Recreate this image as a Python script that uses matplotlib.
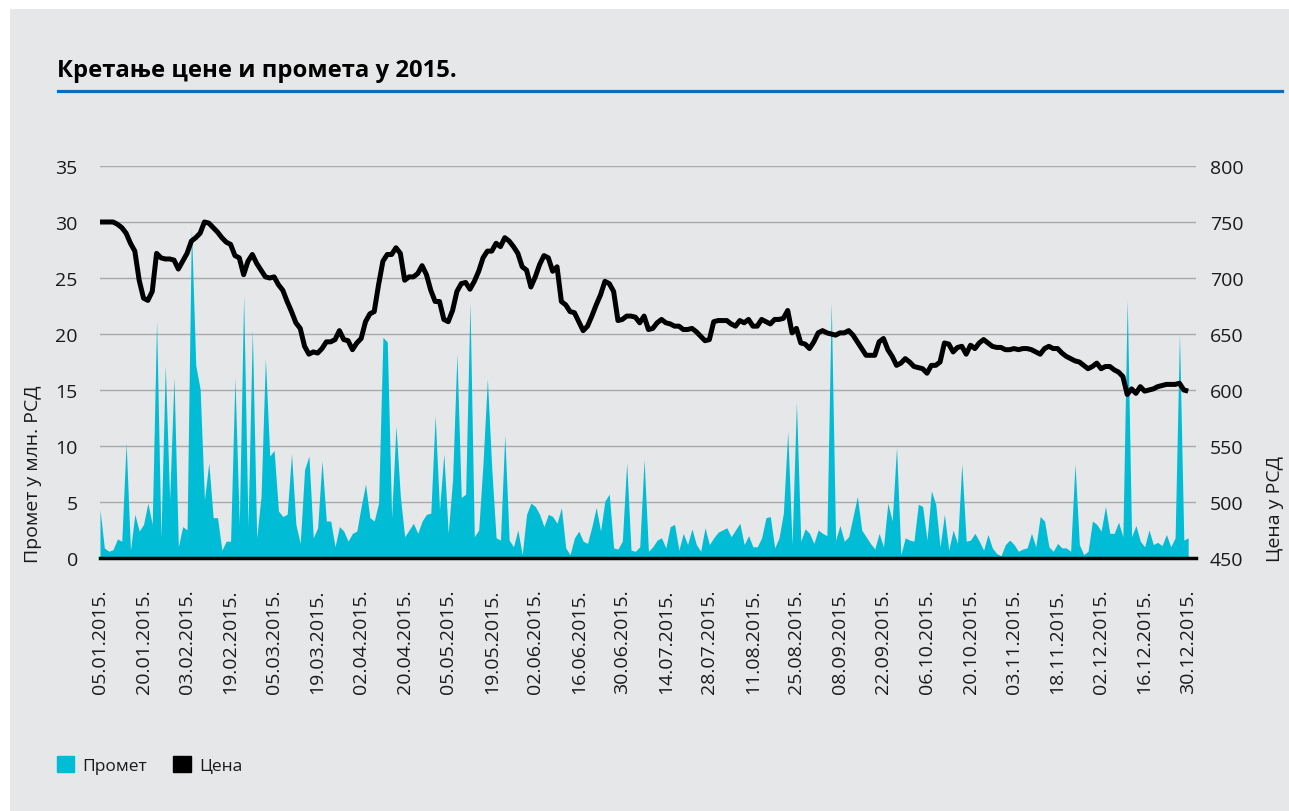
import matplotlib.pyplot as plt
from matplotlib.patches import Rectangle, Patch
from matplotlib.lines import Line2D

plt.rcParams['font.family'] = ['Open Sans', 'DejaVu Sans']

# дневни промет (млн. РСД), трговачки дани од 05.01. до 30.12.2015.
promet = [
    4.3, 0.9, 0.6, 0.75, 1.7, 1.5, 10.3, 0.7, 3.9, 2.4,
    3.0, 4.9, 3.0, 21.2, 1.8, 17.2, 5.2, 16.1, 1.0, 2.8,
    2.5, 29.5, 17.2, 15.1, 5.2, 8.5, 3.6, 3.6, 0.7, 1.5,
    1.5, 16.1, 3.0, 23.4, 2.8, 20.4, 1.8, 5.5, 17.8, 9.1,
    9.6, 4.2, 3.7, 3.9, 9.3, 3.0, 1.3, 7.9, 9.1, 1.8,
    2.7, 8.7, 3.3, 3.3, 1.0, 2.8, 2.4, 1.5, 2.2, 2.4,
    4.6, 6.6, 3.6, 3.3, 4.9, 19.7, 19.3, 3.6, 11.8, 5.5,
    1.9, 2.5, 3.1, 2.2, 3.3, 3.9, 4.0, 12.7, 4.3, 9.3,
    2.2, 7.0, 18.2, 5.4, 5.7, 22.8, 1.9, 2.5, 8.5, 16.0,
    8.0, 1.8, 1.6, 11.0, 1.6, 1.0, 2.5, 0.3, 3.9, 4.9,
    4.6, 3.9, 2.8, 3.9, 3.7, 3.1, 4.5, 0.9, 0.3, 1.8,
    2.4, 1.5, 1.3, 2.8, 4.5, 2.4, 5.1, 5.7, 0.9, 0.8,
    1.5, 8.5, 0.7, 0.6, 1.0, 8.8, 0.6, 1.0, 1.6, 1.8,
    0.9, 2.8, 3.0, 0.7, 2.2, 1.2, 2.6, 1.2, 0.6, 2.7,
    1.2, 1.8, 2.3, 2.5, 2.7, 1.9, 2.5, 3.1, 1.2, 2.0,
    1.0, 1.0, 1.8, 3.6, 3.7, 0.9, 1.8, 4.0, 11.3, 1.2,
    13.9, 1.5, 2.6, 2.2, 1.3, 2.5, 2.2, 2.0, 22.8, 1.6,
    2.9, 1.5, 1.9, 3.7, 5.5, 2.5, 1.9, 1.3, 0.8, 2.2,
    1.0, 4.9, 3.3, 9.9, 0.3, 1.8, 1.6, 1.5, 4.8, 4.6,
    1.6, 6.0, 4.8, 1.0, 3.9, 0.7, 2.5, 1.3, 8.4, 1.5,
    1.6, 2.2, 1.5, 0.7, 2.1, 0.9, 0.4, 0.2, 1.2, 1.6,
    1.2, 0.6, 0.8, 0.9, 2.2, 1.0, 3.7, 3.3, 1.0, 0.6,
    1.3, 0.9, 0.9, 0.6, 8.4, 1.2, 0.3, 0.6, 3.3, 3.0,
    2.4, 4.6, 2.2, 2.2, 3.2, 1.9, 23.1, 1.9, 2.9, 1.5,
    1.0, 2.5, 1.2, 1.4, 1.1, 2.1, 1.0, 1.8, 20.0, 1.6,
    1.8,
]

# цена акције (РСД)
cena = [
    750, 750, 750, 750, 748, 745, 740, 731, 724, 698,
    682, 680, 688, 722, 718, 717, 717, 716, 708, 715,
    722, 733, 736, 740, 750, 749, 745, 741, 736, 732,
    730, 720, 718, 703, 715, 721, 713, 707, 701, 700,
    701, 694, 689, 679, 670, 660, 655, 639, 632, 634,
    633, 637, 643, 643, 645, 653, 645, 644, 636, 642,
    646, 661, 668, 670, 694, 715, 721, 721, 727, 722,
    698, 701, 701, 704, 711, 703, 689, 679, 679, 663,
    661, 671, 688, 695, 696, 690, 697, 706, 718, 724,
    724, 731, 728, 736, 733, 728, 722, 710, 707, 692,
    701, 712, 720, 718, 706, 710, 679, 676, 670, 669,
    661, 653, 657, 666, 676, 685, 697, 695, 688, 662,
    663, 666, 666, 665, 660, 666, 654, 655, 660, 663,
    660, 659, 657, 657, 654, 654, 655, 652, 648, 644,
    645, 661, 662, 662, 662, 659, 657, 662, 660, 663,
    657, 657, 663, 661, 659, 663, 663, 664, 671, 651,
    655, 642, 641, 637, 643, 651, 653, 651, 650, 649,
    651, 651, 653, 649, 643, 637, 631, 631, 631, 643,
    646, 636, 630, 622, 624, 628, 625, 621, 620, 619,
    615, 622, 622, 625, 642, 641, 634, 638, 639, 632,
    640, 637, 642, 645, 642, 639, 638, 638, 636, 636,
    637, 636, 637, 637, 636, 634, 632, 637, 639, 637,
    637, 633, 630, 628, 626, 625, 622, 619, 621, 624,
    619, 621, 621, 618, 616, 612, 596, 601, 597, 603,
    599, 600, 601, 603, 604, 605, 605, 605, 606, 600,
    599,
]

datumi = [
    "05.01.2015.", "20.01.2015.", "03.02.2015.", "19.02.2015.", "05.03.2015.",
    "19.03.2015.", "02.04.2015.", "20.04.2015.", "05.05.2015.", "19.05.2015.",
    "02.06.2015.", "16.06.2015.", "30.06.2015.", "14.07.2015.", "28.07.2015.",
    "11.08.2015.", "25.08.2015.", "08.09.2015.", "22.09.2015.", "06.10.2015.",
    "20.10.2015.", "03.11.2015.", "18.11.2015.", "02.12.2015.", "16.12.2015.",
    "30.12.2015.",
]

W, H = 1289, 812
bg = '#e6e7e8'
cyan = '#00bcd4'
txt = '#1a1a1a'

fig = plt.figure(figsize=(W / 100, H / 100), dpi=100)
fig.patch.set_facecolor('white')
fig.patches.append(Rectangle((10 / W, 0), 1, 1 - 10 / H, transform=fig.transFigure,
                             facecolor=bg, edgecolor='none', zorder=-10))

# naslov i plava linija ispod
fig.text(57 / W, 1 - 77 / H, 'Кретање цене и промета у 2015.', fontsize=17.2,
         fontweight='bold', color='black', va='baseline', ha='left')
fig.add_artist(Line2D([58 / W, 1282 / W], [1 - 91.5 / H] * 2, color='#0a6ebd', lw=2.3))

ax = fig.add_axes([100 / W, 1 - 559 / H, 1096 / W, 392 / H])
ax.set_facecolor('none')
x = list(range(len(promet)))
ax.fill_between(x, 0, promet, color=cyan, lw=0, zorder=2)
ax.set_ylim(0, 35)
ax.set_xlim(0, 251.8)
ax.set_yticks(range(0, 36, 5))
ax.grid(axis='y', color='#a7a9ab', lw=1)
ax.set_axisbelow(True)
ax.set_xticks(range(0, 251, 10))
ax.set_xticklabels(datumi, rotation=90, fontsize=14, color=txt)
ax.tick_params(axis='x', length=0, pad=22)
ax.tick_params(axis='y', length=0, pad=16, labelsize=14, labelcolor=txt)
for s in ['top', 'right', 'left']:
    ax.spines[s].set_visible(False)
ax.spines['bottom'].set_color('black')
ax.spines['bottom'].set_linewidth(2.5)
ax.spines['bottom'].set_zorder(5)

ax2 = ax.twinx()
ax2.plot(x, cena, color='black', lw=3.6, solid_joinstyle='round', solid_capstyle='butt')
ax2.set_ylim(450, 800)
ax2.set_yticks(range(450, 801, 50))
ax2.tick_params(axis='y', length=0, pad=10, labelsize=14, labelcolor=txt)
for s in ax2.spines.values():
    s.set_visible(False)

fig.text(33 / W, 1 - 563 / H, 'Промет у млн. РСД', rotation=90, fontsize=14,
         color=txt, ha='center', va='bottom')
fig.text(1275 / W, 1 - 562 / H, 'Цена у РСД', rotation=90, fontsize=14,
         color=txt, ha='center', va='bottom')

fig.legend(handles=[Patch(color=cyan, label='Промет'), Patch(color='black', label='Цена')],
           loc='center left', bbox_to_anchor=(41 / W, 1 - 766 / H), ncol=2, frameon=False,
           fontsize=12.5, handlelength=1.0, handleheight=1.0, handletextpad=0.5,
           columnspacing=1.5, labelcolor=txt)

fig.savefig('out.png', dpi=100, facecolor=fig.get_facecolor())
